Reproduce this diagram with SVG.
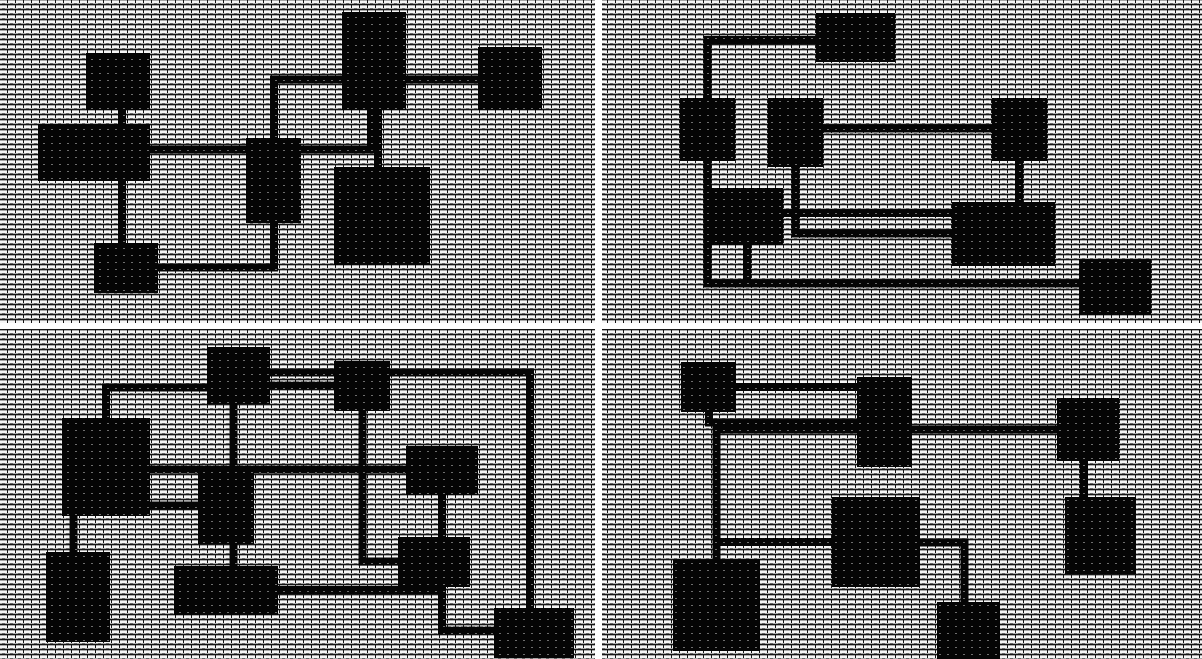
<svg xmlns="http://www.w3.org/2000/svg" width="1202" height="659" viewBox="0 0 1202 659">
<defs>
<pattern id="bg" width="8" height="5" patternUnits="userSpaceOnUse">
<rect width="8" height="5" fill="#a8a8a8"/>
<rect x="0" y="1" width="7" height="2" fill="#f6f6f6"/>
<rect x="0" y="4" width="8" height="1" fill="#151515"/>
<rect x="7" y="0" width="1" height="3" fill="#151515"/>
<rect x="2" y="3" width="3" height="1" fill="#666"/>
</pattern>
<pattern id="nd" width="8" height="7" patternUnits="userSpaceOnUse">
<rect width="8" height="7" fill="#050505"/>
<rect x="3" y="3" width="2" height="1" fill="#6e6e6e"/>
</pattern>
</defs>
<style>
.panel{fill:url(#bg)}
.n{fill:url(#nd)}
.c{fill:none;stroke:url(#nd);stroke-width:8;stroke-linecap:butt;stroke-linejoin:miter}
</style>
<rect width="1202" height="659" fill="#ffffff"/>
<rect class="panel" x="0" y="0" width="595" height="323"/>
<rect class="panel" x="602" y="0" width="600" height="323"/>
<rect class="panel" x="0" y="329" width="595" height="330"/>
<rect class="panel" x="602" y="329" width="600" height="330"/>
<g id="connectors">
<!-- panel 1 -->
<path class="c" d="M122 110 V243"/>
<path class="c" d="M150 149.5 H371 V110"/>
<path class="c" d="M274 138 V79.5 H478"/>
<path class="c" d="M158 267.5 H274 V223"/>
<path class="c" d="M378 110 V167"/>
<!-- panel 2 -->
<path class="c" d="M816 40 H707.5 V283.5 H1079"/>
<path class="c" d="M747 245 V283.5"/>
<path class="c" d="M795.5 167 V233.5 H952"/>
<path class="c" d="M783 213 H952"/>
<path class="c" d="M823 128.5 H992"/>
<path class="c" d="M1019 161 V202"/>
<!-- panel 3 -->
<path class="c" d="M207 387.5 H106 V418"/>
<path class="c" d="M270 385.5 H334"/>
<path class="c" d="M270 372.5 H530 V608"/>
<path class="c" d="M233.5 404 V471"/>
<path class="c" d="M150 505.5 H198"/>
<path class="c" d="M150 469.5 H406"/>
<path class="c" d="M362.5 411 V561.5 H398"/>
<path class="c" d="M73.5 516 V552"/>
<path class="c" d="M233.5 544 V566"/>
<path class="c" d="M278 590 H442"/>
<path class="c" d="M442 495 V630.5 H494"/>
<!-- panel 4 -->
<path class="c" d="M736 387 H857"/>
<path class="c" d="M709 412 V422.5 H857"/>
<path class="c" d="M857 429.5 H716.5 V559"/>
<path class="c" d="M716.5 542 H832"/>
<path class="c" d="M912 429.5 H1057"/>
<path class="c" d="M1084 461 V497"/>
<path class="c" d="M920 542.5 H964.5 V602"/>
</g>
<!-- panel 1 nodes -->
<g id="n1a"><rect class="n" x="86" y="53" width="64" height="57"/></g>
<g id="n1b"><rect class="n" x="38" y="124" width="112" height="57"/></g>
<g id="n1c"><rect class="n" x="94" y="243" width="64" height="50"/></g>
<g id="n1d"><rect class="n" x="246" y="138" width="55" height="85"/></g>
<g id="n1e"><rect class="n" x="342" y="12" width="64" height="98"/></g>
<g id="n1f"><rect class="n" x="478" y="47" width="64" height="63"/></g>
<g id="n1g"><rect class="n" x="334" y="167" width="96" height="98"/></g>
<!-- panel 2 nodes -->
<g id="n2h"><rect class="n" x="816" y="13" width="79" height="49"/></g>
<g id="n2i"><rect class="n" x="680" y="98" width="55" height="63"/></g>
<g id="n2j"><rect class="n" x="768" y="98" width="55" height="69"/></g>
<g id="n2k"><rect class="n" x="706" y="188" width="77" height="57"/></g>
<g id="n2l"><rect class="n" x="992" y="98" width="55" height="63"/></g>
<g id="n2m"><rect class="n" x="952" y="202" width="103" height="64"/></g>
<g id="n2n"><rect class="n" x="1079" y="259" width="72" height="56"/></g>
<!-- panel 3 nodes -->
<g id="n3o"><rect class="n" x="207" y="347" width="63" height="57"/></g>
<g id="n3p"><rect class="n" x="62" y="418" width="88" height="98"/></g>
<g id="n3q"><rect class="n" x="198" y="471" width="56" height="73"/></g>
<g id="n3r"><rect class="n" x="46" y="552" width="64" height="90"/></g>
<g id="n3s"><rect class="n" x="174" y="566" width="104" height="49"/></g>
<g id="n3t"><rect class="n" x="334" y="361" width="56" height="50"/></g>
<g id="n3u"><rect class="n" x="406" y="446" width="72" height="49"/></g>
<g id="n3v"><rect class="n" x="398" y="537" width="72" height="50"/></g>
<g id="n3w"><rect class="n" x="494" y="608" width="80" height="50"/></g>
<!-- panel 4 nodes -->
<g id="n4x"><rect class="n" x="681" y="362" width="55" height="50"/></g>
<g id="n4y"><rect class="n" x="857" y="377" width="55" height="90"/></g>
<g id="n4z"><rect class="n" x="832" y="497" width="88" height="90"/></g>
<g id="n4aa"><rect class="n" x="673" y="559" width="87" height="92"/></g>
<g id="n4ab"><rect class="n" x="1057" y="398" width="62" height="63"/></g>
<g id="n4ac"><rect class="n" x="1065" y="497" width="71" height="77"/></g>
<g id="n4ad"><rect class="n" x="937" y="602" width="63" height="57"/></g>
</svg>
